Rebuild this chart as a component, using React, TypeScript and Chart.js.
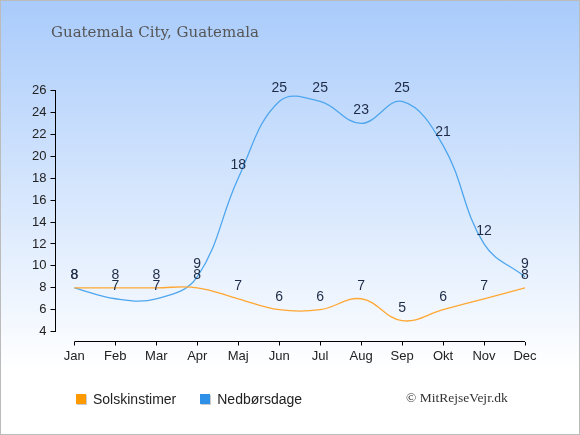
import { useEffect, useRef } from "react";
import { Chart, registerables } from "chart.js";

Chart.register(...registerables);

const months = ["Jan", "Feb", "Mar", "Apr", "Maj", "Jun", "Jul", "Aug", "Sep", "Okt", "Nov", "Dec"];
const sunHours = [8, 8, 8, 8, 7, 6, 6, 7, 5, 6, 7, 8];
const rainDays = [8, 7, 7, 9, 18, 25, 25, 23, 25, 21, 12, 9];
const yTicks = [4, 6, 8, 10, 12, 14, 16, 18, 20, 22, 24, 26];

const sunColor = "#ffa733";
const rainColor = "#4ea6ee";
const sunBox = "#ff9900";
const rainBox = "#2e90e6";
const sans = "'Liberation Sans', Arial, sans-serif";

// value labels above every point
const valueLabels = {
  id: "valueLabels",
  afterDatasetsDraw(chart: any) {
    const ctx = chart.ctx;
    ctx.save();
    ctx.font = "14px " + sans;
    ctx.fillStyle = "#1e2b47";
    ctx.textAlign = "center";
    ctx.textBaseline = "middle";
    chart.data.datasets.forEach((ds: any, i: number) => {
      const meta = chart.getDatasetMeta(i);
      meta.data.forEach((pt: any, j: number) => {
        ctx.fillText(String(ds.data[j].y), pt.x, pt.y - 13);
      });
    });
    ctx.restore();
  },
};

// axis lines only over the tick range
const axisLines = {
  id: "axisLines",
  afterDraw(chart: any) {
    const { ctx, chartArea, scales } = chart;
    ctx.save();
    ctx.strokeStyle = "#000";
    ctx.lineWidth = 1;
    ctx.beginPath();
    ctx.moveTo(chartArea.left, scales.y.getPixelForValue(yTicks[yTicks.length - 1]));
    ctx.lineTo(chartArea.left, scales.y.getPixelForValue(yTicks[0]));
    ctx.moveTo(scales.x.getPixelForValue(0), chartArea.bottom);
    ctx.lineTo(scales.x.getPixelForValue(months.length - 1), chartArea.bottom);
    ctx.stroke();
    ctx.restore();
  },
};

export default function App() {
  const canvasRef = useRef<HTMLCanvasElement | null>(null);

  useEffect(() => {
    if (canvasRef.current == null) return;
    const chart = new Chart(canvasRef.current, {
      type: "line",
      data: {
        datasets: [
          {
            label: "Solskinstimer",
            data: sunHours.map((v, i) => ({ x: i, y: v })),
            borderColor: sunColor,
            backgroundColor: sunBox,
            borderWidth: 1.3,
            pointRadius: 0,
            tension: 0.4,
          },
          {
            label: "Nedbørsdage",
            data: rainDays.map((v, i) => ({ x: i, y: v })),
            borderColor: rainColor,
            backgroundColor: rainBox,
            borderWidth: 1.3,
            pointRadius: 0,
            tension: 0.4,
          },
        ],
      },
      options: {
        animation: false,
        responsive: true,
        maintainAspectRatio: false,
        layout: { padding: { top: 90.5, right: 55, bottom: 0, left: 0 } },
        plugins: {
          legend: { display: false },
          tooltip: { enabled: false },
        },
        scales: {
          x: {
            type: "linear",
            min: -0.46,
            max: months.length - 1,
            afterBuildTicks: (s: any) => {
              s.ticks = months.map((_, i) => ({ value: i }));
            },
            afterFit: (s: any) => {
              s.height = 93.5;
            },
            ticks: {
              callback: (v: any) => months[v] ?? "",
              font: { size: 13, family: sans },
              color: "#222",
              padding: 3,
              autoSkip: false,
              maxRotation: 0,
            },
            grid: { drawOnChartArea: false, color: "#000", tickLength: 4 },
            border: { display: false },
          },
          y: {
            min: 3.1,
            max: 26,
            afterBuildTicks: (s: any) => {
              s.ticks = yTicks.map((v) => ({ value: v }));
            },
            afterFit: (s: any) => {
              s.width = 55.5;
            },
            ticks: {
              font: { size: 13, family: sans },
              color: "#222",
              padding: 4,
            },
            grid: { drawOnChartArea: false, color: "#000", tickLength: 5 },
            border: { display: false },
          },
        },
      },
      plugins: [valueLabels, axisLines],
    });
    return () => {
      chart.destroy();
    };
  }, []);

  return (
    <div
      style={{
        position: "relative",
        width: 580,
        height: 435,
        background: "linear-gradient(to bottom, #a9cbfb 0px, #ffffff 370px)",
        overflow: "hidden",
      }}
    >
      <style>{"body{margin:0}"}</style>
      <div style={{ position: "absolute", inset: 0 }}>
        <canvas ref={canvasRef}></canvas>
      </div>
      <div
        style={{
          position: "absolute",
          left: 51,
          top: 25,
          font: "15px 'DejaVu Serif', Georgia, serif",
          lineHeight: "15px",
          color: "#555",
          whiteSpace: "nowrap",
        }}
      >
        Guatemala City, Guatemala
      </div>
      <div
        style={{
          position: "absolute",
          left: 76,
          top: 391.5,
          display: "flex",
          alignItems: "center",
          font: "14px " + sans,
          lineHeight: "14px",
          color: "#222",
        }}
      >
        <span style={{ width: 10, height: 10, background: sunBox, boxShadow: "1px 1px 0 #ccc", marginRight: 7 }}></span>
        <span style={{ marginRight: 24 }}>Solskinstimer</span>
        <span style={{ width: 10, height: 10, background: rainBox, boxShadow: "1px 1px 0 #ccc", marginRight: 7 }}></span>
        <span>Nedbørsdage</span>
      </div>
      <div
        style={{
          position: "absolute",
          left: 406,
          top: 391,
          font: "13.5px 'Liberation Serif', 'Times New Roman', serif",
          lineHeight: "13.5px",
          color: "#333",
          whiteSpace: "nowrap",
        }}
      >
        © MitRejseVejr.dk
      </div>
      <div
        style={{
          position: "absolute",
          inset: 0,
          border: "1px solid #bbb",
          pointerEvents: "none",
        }}
      ></div>
    </div>
  );
}
